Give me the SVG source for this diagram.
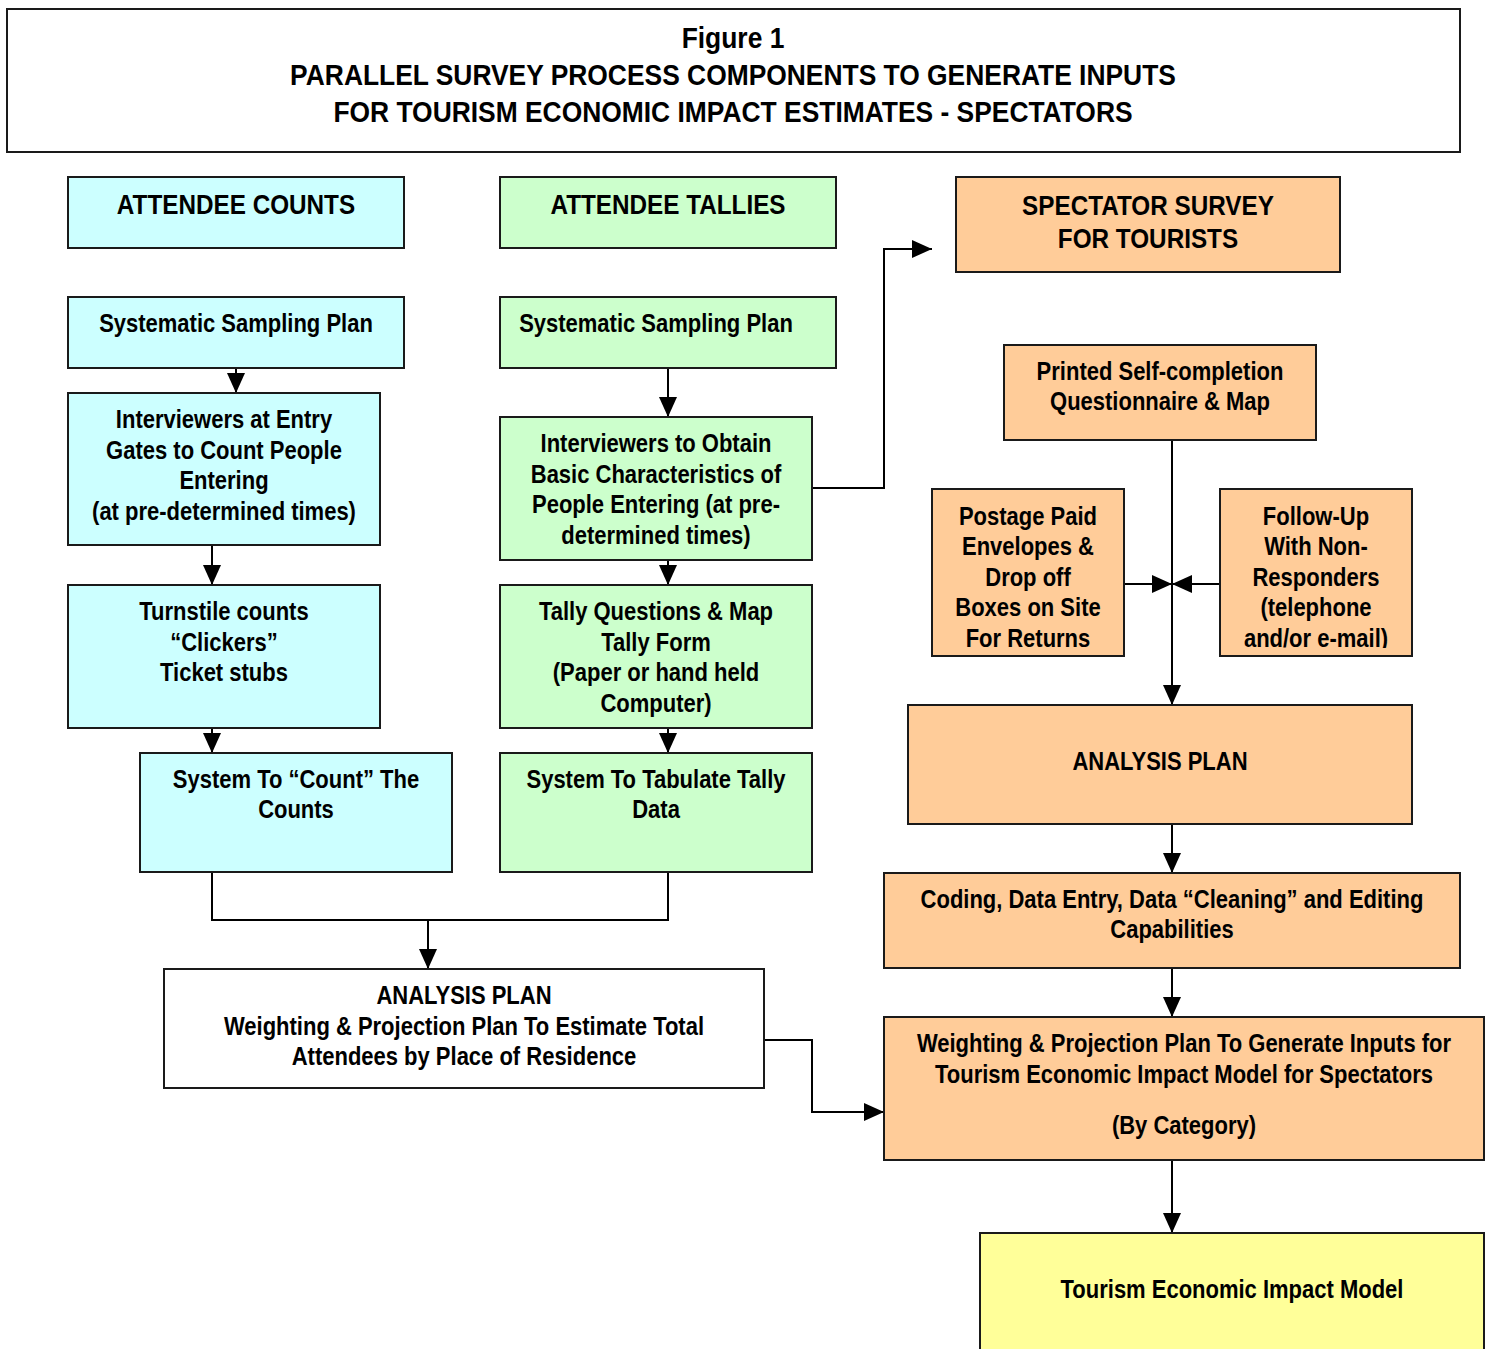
<svg xmlns="http://www.w3.org/2000/svg" width="1489" height="1349" viewBox="0 0 1489 1349">
  <style>
    .box { stroke: #1a1a1a; stroke-width: 2; }
    .cyan { fill: #CCFFFF; }
    .green { fill: #CCFFCC; }
    .orange { fill: #FFCC99; }
    .yellow { fill: #FFFF99; }
    .white { fill: #FFFFFF; }
    /* condensed bold face: regular sans squeezed horizontally around each line's centre */
    text { font-family: "Liberation Sans Narrow", "Arial Narrow", "Liberation Sans", sans-serif; font-weight: bold; font-size: 25px; fill: #000; text-anchor: middle;
           transform-box: fill-box; transform-origin: center; transform: scaleX(0.88); }
    .title { font-size: 30px; }
    .head { font-size: 27.6px; }
    .conn { fill: none; stroke: #000; stroke-width: 2; }
  </style>
  <defs>
    <marker id="arrow" markerUnits="userSpaceOnUse" markerWidth="22" markerHeight="20" refX="20" refY="10" orient="auto">
      <path d="M0,1 L20,10 L0,19 Z" fill="#000"/>
    </marker>
    <clipPath id="clipFollow"><rect x="1220" y="489" width="192" height="159"/></clipPath>
    <clipPath id="clipPostage"><rect x="932" y="489" width="192" height="159"/></clipPath>
  </defs>
  <rect width="1489" height="1349" fill="#FFFFFF"/>

  <g id="title">
    <rect class="box white" x="7" y="9" width="1453" height="143"/>
    <text class="title" x="733" y="48">Figure 1</text>
    <text class="title" x="733" y="85">PARALLEL SURVEY PROCESS COMPONENTS TO GENERATE INPUTS</text>
    <text class="title" x="733" y="122">FOR TOURISM ECONOMIC IMPACT ESTIMATES - SPECTATORS</text>
  </g>

  <!-- connectors -->
  <g id="connectors">
    <path class="conn" d="M236,368 V393" marker-end="url(#arrow)"/>
    <path class="conn" d="M212,537 V585" marker-end="url(#arrow)"/>
    <path class="conn" d="M212,728 V753" marker-end="url(#arrow)"/>
    <path class="conn" d="M668,368 V417" marker-end="url(#arrow)"/>
    <path class="conn" d="M668,560 V585" marker-end="url(#arrow)"/>
    <path class="conn" d="M668,728 V753" marker-end="url(#arrow)"/>
    <path class="conn" d="M212,872 V920 H668 V872"/>
    <path class="conn" d="M428,920 V969" marker-end="url(#arrow)"/>
    <path class="conn" d="M812,488 H884 V249 H932" marker-end="url(#arrow)"/>
    <path class="conn" d="M1172,440 V705" marker-end="url(#arrow)"/>
    <path class="conn" d="M1124,584 H1172" marker-end="url(#arrow)"/>
    <path class="conn" d="M1220,584 H1172" marker-end="url(#arrow)"/>
    <path class="conn" d="M1172,824 V873" marker-end="url(#arrow)"/>
    <path class="conn" d="M1172,968 V1017" marker-end="url(#arrow)"/>
    <path class="conn" d="M764,1040 H812 V1112 H884" marker-end="url(#arrow)"/>
    <path class="conn" d="M1172,1160 V1233" marker-end="url(#arrow)"/>
  </g>

  <!-- attendee counts column -->
  <g id="counts-header">
    <rect class="box cyan" x="68" y="177" width="336" height="71"/>
    <text class="head" x="236" y="214">ATTENDEE COUNTS</text>
  </g>
  <g id="counts-sampling">
    <rect class="box cyan" x="68" y="297" width="336" height="71"/>
    <text x="236" y="332">Systematic Sampling Plan</text>
  </g>
  <g id="counts-interviewers">
    <rect class="box cyan" x="68" y="393" width="312" height="152"/>
    <text x="224" y="428">Interviewers at Entry</text>
    <text x="224" y="459">Gates to Count People</text>
    <text x="224" y="489">Entering</text>
    <text x="224" y="520">(at pre-determined times)</text>
  </g>
  <g id="counts-turnstile">
    <rect class="box cyan" x="68" y="585" width="312" height="143"/>
    <text x="224" y="620">Turnstile counts</text>
    <text x="224" y="651">“Clickers”</text>
    <text x="224" y="681">Ticket stubs</text>
  </g>
  <g id="counts-system">
    <rect class="box cyan" x="140" y="753" width="312" height="119"/>
    <text x="296" y="788">System To “Count” The</text>
    <text x="296" y="818">Counts</text>
  </g>

  <!-- attendee tallies column -->
  <g id="tallies-header">
    <rect class="box green" x="500" y="177" width="336" height="71"/>
    <text class="head" x="668" y="214">ATTENDEE TALLIES</text>
  </g>
  <g id="tallies-sampling">
    <rect class="box green" x="500" y="297" width="336" height="71"/>
    <text x="656" y="332">Systematic Sampling Plan</text>
  </g>
  <g id="tallies-interviewers">
    <rect class="box green" x="500" y="417" width="312" height="143"/>
    <text x="656" y="452">Interviewers to Obtain</text>
    <text x="656" y="483">Basic Characteristics of</text>
    <text x="656" y="513">People Entering (at pre-</text>
    <text x="656" y="544">determined times)</text>
  </g>
  <g id="tallies-form">
    <rect class="box green" x="500" y="585" width="312" height="143"/>
    <text x="656" y="620">Tally Questions &amp; Map</text>
    <text x="656" y="651">Tally Form</text>
    <text x="656" y="681">(Paper or hand held</text>
    <text x="656" y="712">Computer)</text>
  </g>
  <g id="tallies-system">
    <rect class="box green" x="500" y="753" width="312" height="119"/>
    <text x="656" y="788">System To Tabulate Tally</text>
    <text x="656" y="818">Data</text>
  </g>

  <g id="attendee-analysis">
    <rect class="box white" x="164" y="969" width="600" height="119"/>
    <text x="464" y="1004">ANALYSIS PLAN</text>
    <text x="464" y="1035">Weighting &amp; Projection Plan To Estimate Total</text>
    <text x="464" y="1065">Attendees by Place of Residence</text>
  </g>

  <!-- spectator survey column -->
  <g id="survey-header">
    <rect class="box orange" x="956" y="177" width="384" height="95"/>
    <text class="head" x="1148" y="215">SPECTATOR SURVEY</text>
    <text class="head" x="1148" y="248">FOR TOURISTS</text>
  </g>
  <g id="survey-questionnaire">
    <rect class="box orange" x="1004" y="345" width="312" height="95"/>
    <text x="1160" y="380">Printed Self-completion</text>
    <text x="1160" y="410">Questionnaire &amp; Map</text>
  </g>
  <g id="survey-postage">
    <rect class="box orange" x="932" y="489" width="192" height="167"/>
    <g clip-path="url(#clipPostage)">
      <text x="1028" y="525">Postage Paid</text>
      <text x="1028" y="555">Envelopes &amp;</text>
      <text x="1028" y="586">Drop off</text>
      <text x="1028" y="616">Boxes on Site</text>
      <text x="1028" y="647">For Returns</text>
    </g>
  </g>
  <g id="survey-followup">
    <rect class="box orange" x="1220" y="489" width="192" height="167"/>
    <g clip-path="url(#clipFollow)">
      <text x="1316" y="525">Follow-Up</text>
      <text x="1316" y="555">With Non-</text>
      <text x="1316" y="586">Responders</text>
      <text x="1316" y="616">(telephone</text>
      <text x="1316" y="647">and/or e-mail)</text>
    </g>
  </g>
  <g id="survey-analysis">
    <rect class="box orange" x="908" y="705" width="504" height="119"/>
    <text x="1160" y="770">ANALYSIS PLAN</text>
  </g>
  <g id="survey-coding">
    <rect class="box orange" x="884" y="873" width="576" height="95"/>
    <text x="1172" y="908">Coding, Data Entry, Data “Cleaning” and Editing</text>
    <text x="1172" y="938">Capabilities</text>
  </g>
  <g id="survey-weighting">
    <rect class="box orange" x="884" y="1017" width="600" height="143"/>
    <text x="1184" y="1052">Weighting &amp; Projection Plan To Generate Inputs for</text>
    <text x="1184" y="1083">Tourism Economic Impact Model for Spectators</text>
    <text x="1184" y="1134">(By Category)</text>
  </g>
  <g id="impact-model">
    <rect class="box yellow" x="980" y="1233" width="504" height="130"/>
    <text x="1232" y="1298">Tourism Economic Impact Model</text>
  </g>
</svg>
